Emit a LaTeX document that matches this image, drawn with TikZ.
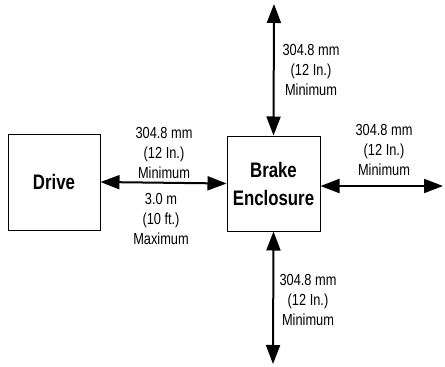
\documentclass[tikz,border=0pt]{standalone}
\usepackage{fontspec}
\newfontfamily\narrowsans[FakeStretch=0.8]{Liberation Sans}
\usetikzlibrary{arrows.meta, positioning}

\tikzset{
  unitbox/.style={draw, line width=1pt, inner sep=0pt, align=center,
    font=\narrowsans\bfseries\fontsize{21}{28}\selectfont},
  gaparrow/.style={{Triangle[length=19pt,width=14pt]}-{Triangle[length=19pt,width=14pt]},
    line width=2pt},
  gaptext/.style={align=center, inner sep=0pt,
    font=\narrowsans\fontsize{16}{20}\selectfont},
}

\begin{document}
\begin{tikzpicture}[x=1pt, y=-1pt]
\useasboundingbox (0,0) rectangle (445,367);

% Cajas
\node[unitbox, minimum width=92pt, minimum height=96pt] (drive) at (54,182) {Drive};
\node[unitbox, minimum width=93pt, minimum height=95pt] (brake) at (273.5,183.5) {Brake\\Enclosure};

% Extremos libres de las flechas
\coordinate (topEnd) at (274,4);
\coordinate (bottomEnd) at (273,364);
\coordinate (rightEnd) at (443,186);

\draw[gaparrow] (drive.east) -- (brake.west);
\draw[gaparrow] (brake.north) -- (topEnd);
\draw[gaparrow] (brake.south) -- (bottomEnd);
\draw[gaparrow] ([yshift=-2.5pt]brake.east) -- (rightEnd);

% Distancias
\node[gaptext] (leftMin) at (164,153) {304.8 mm\\(12 In.)\\Minimum};
\node[gaptext] (leftMax) at (161,219) {3.0 m\\(10 ft.)\\Maximum};
\node[gaptext] (topMin) at (311,70) {304.8 mm\\(12 In.)\\Minimum};
\node[gaptext] (rightMin) at (384,150) {304.8 mm\\(12 In.)\\Minimum};
\node[gaptext] (bottomMin) at (308,300) {304.8 mm\\(12 In.)\\Minimum};

\end{tikzpicture}
\end{document}
